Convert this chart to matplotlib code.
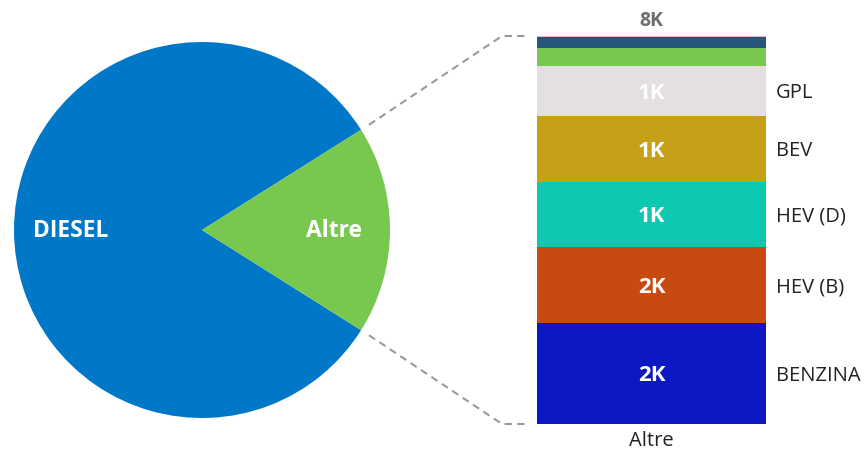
import matplotlib
matplotlib.use("Agg")
import matplotlib.pyplot as plt
from matplotlib.lines import Line2D
import numpy as np

plt.rcParams['font.family'] = ['Open Sans', 'DejaVu Sans']

# torta: DIESEL vs Altre (migliaia)
pie_labels = ["DIESEL", "Altre"]
pie_colors = ["#0177C8", "#78C850"]

# dettaglio di "Altre", dal basso verso l'alto (migliaia)
bar_cats = ["BENZINA", "HEV (B)", "HEV (D)", "BEV", "GPL", "PHEV", "METANO", "ALTRO"]
bar_vals = [2.08, 1.57, 1.34, 1.36, 1.03, 0.37, 0.23, 0.02]
bar_colors = ["#0B18C4", "#C74A12", "#0DC8B0", "#C6A017", "#E3E0DF",
              "#78C850", "#26567A", "#E8B4B8"]

diesel_val = 36.7
altre_val = sum(bar_vals)
pie_vals = [diesel_val, altre_val]

W, H = 865, 454
fig = plt.figure(figsize=(W / 100, H / 100), dpi=100)

# pie
ax_pie = fig.add_axes([14 / W, (H - 418) / H, 376 / W, 376 / H])
half = 180 * altre_val / sum(pie_vals)
wedges, _ = ax_pie.pie(pie_vals, colors=pie_colors, startangle=half,
                       radius=1, counterclock=True)
ax_pie.set_xlim(-1, 1)
ax_pie.set_ylim(-1, 1)
ax_pie.set_aspect('equal')
ax_pie.axis('off')
for lab, xpos in zip(pie_labels, [-0.70, 0.70]):
    ax_pie.annotate(lab, (xpos, 0), xytext=(0, -1), textcoords="offset points",
                    color="white", fontsize=16.5, fontweight="bold",
                    ha="center", va="center")

# barra impilata
ax_bar = fig.add_axes([537 / W, (H - 424) / H, 229 / W, 388 / H])
bottom = 0
for cat, v, c in zip(bar_cats, bar_vals, bar_colors):
    ax_bar.bar(0, v, bottom=bottom, width=1, color=c, linewidth=0)
    if v >= 0.5:
        ym = bottom + v / 2
        ax_bar.annotate(f"{round(v)}K", (0, ym), xytext=(0, -1.5),
                        textcoords="offset points", color="white", fontsize=16,
                        fontweight="bold", ha="center", va="center")
        ax_bar.annotate(cat, (0.543, ym), xytext=(0, -1.5),
                        textcoords="offset points", color="#222222",
                        fontsize=14.5, ha="left", va="center",
                        annotation_clip=False)
    bottom += v
ax_bar.set_xlim(-0.5, 0.5)
ax_bar.set_ylim(0, altre_val)
ax_bar.axis('off')
ax_bar.annotate(f"{round(altre_val)}K", (0, altre_val), xytext=(0, 7.5),
                textcoords="offset points", color="#6E6E6E", fontsize=14,
                fontweight="bold", ha="center", va="baseline")
ax_bar.annotate("Altre", (0, 0), xytext=(0, -5), textcoords="offset points",
                color="#222222", fontsize=14.5, ha="center", va="top",
                annotation_clip=False)

# linee tratteggiate di collegamento
inv = fig.transFigure.inverted()
a = np.deg2rad(half)
for sgn, yb in [(1, altre_val), (-1, 0)]:
    p0 = ax_pie.transData.transform((1.05 * np.cos(a), sgn * 1.05 * np.sin(a)))
    pb = ax_bar.transData.transform((-0.5, yb))
    p1 = (pb[0] - 35, pb[1])
    p2 = (pb[0] - 10, pb[1])
    pts = inv.transform([p0, p1, p2])
    fig.add_artist(Line2D(pts[:, 0], pts[:, 1], color="#9A9A9A", lw=1.5,
                          linestyle=(0, (3.5, 2.5)), transform=fig.transFigure))

fig.savefig("out.png", dpi=100)
